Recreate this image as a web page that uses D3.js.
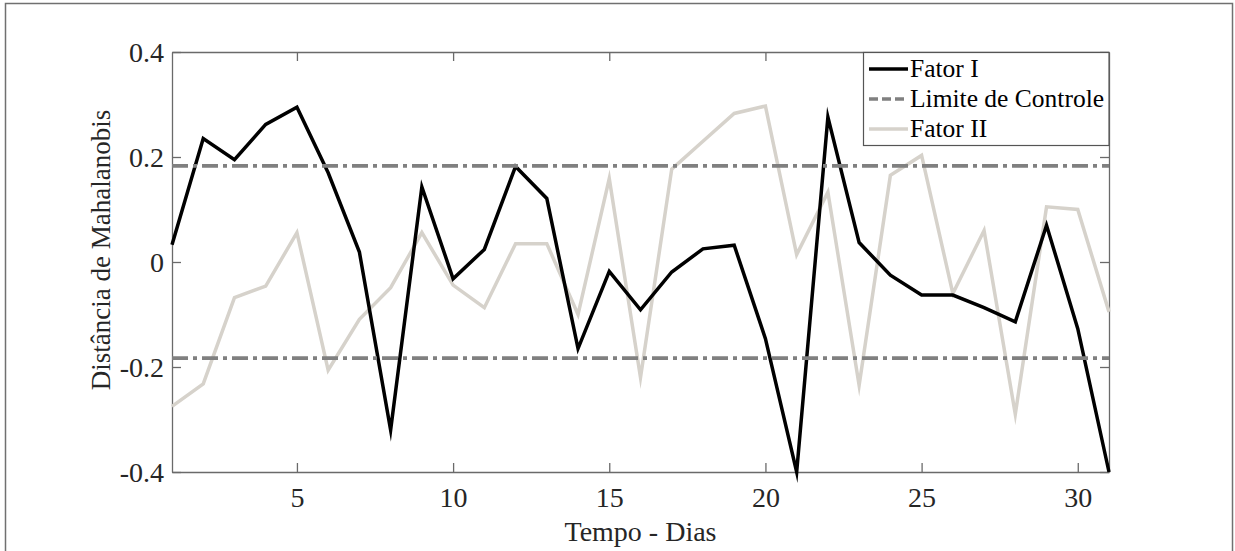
<!DOCTYPE html>
<html>
<head>
<meta charset="utf-8">
<script src="https://cdn.jsdelivr.net/npm/d3@7"></script>
<style>
  body { margin: 0; background: #fff; }
  svg { display: block; font-family: "Liberation Serif", "DejaVu Serif", serif; }
</style>
</head>
<body>
<div id="chart"></div>
<script>
// days 1..31
var dias = d3.range(1, 32);

var fatorI = [0.033, 0.235, 0.195, 0.262, 0.295, 0.17, 0.019, -0.32, 0.143, -0.032,
  0.024, 0.182, 0.121, -0.165, -0.018, -0.091, -0.019, 0.025, 0.032, -0.146,
  -0.4, 0.276, 0.037, -0.025, -0.063, -0.063, -0.087, -0.114, 0.07, -0.127, -0.4];

var fatorII = [-0.275, -0.232, -0.068, -0.046, 0.056, -0.206, -0.109, -0.049, 0.056, -0.044,
  -0.087, 0.035, 0.035, -0.1, 0.159, -0.22, 0.177, 0.23, 0.283, 0.297,
  0.014, 0.133, -0.235, 0.165, 0.203, -0.06, 0.06, -0.29, 0.105, 0.1, -0.095];

var limites = [0.183, -0.183];

var xTicks = [5, 10, 15, 20, 25, 30];
var yTicks = [-0.4, -0.2, 0, 0.2, 0.4];
var yTickLabels = ["-0.4", "-0.2", "0", "0.2", "0.4"];

var legendItems = ["Fator I", "Limite de Controle", "Fator II"];

var width = 1235, height = 551;
var plotLeft = 172, plotRight = 1109, plotTop = 52, plotBottom = 472;
var axisColor = "#6a6a6a", textColor = "#262626";
var colFatorII = "#d6d2cb", colLimite = "#808080";

var svg = d3.select("#chart").append("svg")
  .attr("width", width)
  .attr("height", height);

// outer frame of the figure
svg.append("rect")
  .attr("x", 5.5).attr("y", 3.5)
  .attr("width", 1227).attr("height", 600)
  .attr("fill", "none")
  .attr("stroke", "#707070")
  .attr("stroke-width", 1.5);

var x = d3.scaleLinear().domain([1, 31]).range([plotLeft, plotRight]);
var y = d3.scaleLinear().domain([-0.4, 0.4]).range([plotBottom, plotTop]);

// axes (box on, ticks pointing in)
var gx = svg.append("g").attr("transform", "translate(0," + plotBottom + ")")
  .call(d3.axisBottom(x).tickValues(xTicks).tickSizeInner(-9).tickSizeOuter(0).tickFormat(d3.format("d")));
var gxt = svg.append("g").attr("transform", "translate(0," + plotTop + ")")
  .call(d3.axisTop(x).tickValues(xTicks).tickSizeInner(-9).tickSizeOuter(0).tickFormat(""));
var gy = svg.append("g").attr("transform", "translate(" + plotLeft + ",0)")
  .call(d3.axisLeft(y).tickValues(yTicks).tickSizeInner(-9).tickSizeOuter(0)
    .tickFormat(function(d, i) { return yTickLabels[i]; }));
var gyr = svg.append("g").attr("transform", "translate(" + plotRight + ",0)")
  .call(d3.axisRight(y).tickValues(yTicks).tickSizeInner(-9).tickSizeOuter(0).tickFormat(""));

[gx, gxt, gy, gyr].forEach(function(g) {
  g.select(".domain").attr("stroke", axisColor).attr("stroke-width", 1.3);
  g.selectAll(".tick line").attr("stroke", axisColor).attr("stroke-width", 1.3);
  g.selectAll("text").attr("fill", textColor).style("font-size", "28px")
    .style("font-family", "'Liberation Serif', serif");
});
gx.selectAll(".tick text").attr("y", 35).attr("dy", null);
gy.selectAll(".tick text").attr("x", -8).attr("dy", "0.34em");

// axis titles
svg.append("text")
  .attr("x", (plotLeft + plotRight) / 2).attr("y", 541)
  .attr("text-anchor", "middle")
  .attr("fill", textColor)
  .style("font-size", "28px")
  .text("Tempo - Dias");

svg.append("text")
  .attr("transform", "translate(110,250) rotate(-90)")
  .attr("text-anchor", "middle")
  .attr("fill", textColor)
  .style("font-size", "27px")
  .text("Distância de Mahalanobis");

var line = d3.line()
  .x(function(d, i) { return x(dias[i]); })
  .y(function(d) { return y(d); });

svg.append("path")
  .datum(fatorII)
  .attr("d", line)
  .attr("fill", "none")
  .attr("stroke", colFatorII)
  .attr("stroke-width", 3.5)
  .attr("stroke-linejoin", "miter")
  .attr("stroke-miterlimit", 10);

svg.append("path")
  .datum(fatorI)
  .attr("d", line)
  .attr("fill", "none")
  .attr("stroke", "#000")
  .attr("stroke-width", 3.5)
  .attr("stroke-linejoin", "miter")
  .attr("stroke-miterlimit", 10);

svg.selectAll(".limite")
  .data(limites)
  .enter().append("line")
  .attr("class", "limite")
  .attr("x1", x(1)).attr("x2", x(31))
  .attr("y1", function(d) { return y(d); })
  .attr("y2", function(d) { return y(d); })
  .attr("stroke", colLimite)
  .attr("stroke-width", 3.7)
  .attr("stroke-dasharray", "16,5,4,5");

// legend
var leg = svg.append("g");
leg.append("rect")
  .attr("x", 863.5).attr("y", plotTop + 0.5)
  .attr("width", plotRight - 863.5).attr("height", 93)
  .attr("fill", "#fff")
  .attr("stroke", "#555")
  .attr("stroke-width", 1.2);

var legStyles = [
  { color: "#000", dash: null },
  { color: colLimite, dash: "9,4" },
  { color: colFatorII, dash: null }
];

var rows = leg.selectAll(".item")
  .data(legendItems)
  .enter().append("g")
  .attr("class", "item")
  .attr("transform", function(d, i) { return "translate(0," + (69 + i * 30) + ")"; });

rows.append("line")
  .attr("x1", 869).attr("x2", 908)
  .attr("stroke", function(d, i) { return legStyles[i].color; })
  .attr("stroke-width", 3.5)
  .attr("stroke-dasharray", function(d, i) { return legStyles[i].dash; });

rows.append("text")
  .attr("x", 910).attr("dy", "0.33em")
  .attr("fill", "#000")
  .style("font-size", "25.5px")
  .text(function(d) { return d; });
</script>
</body>
</html>
